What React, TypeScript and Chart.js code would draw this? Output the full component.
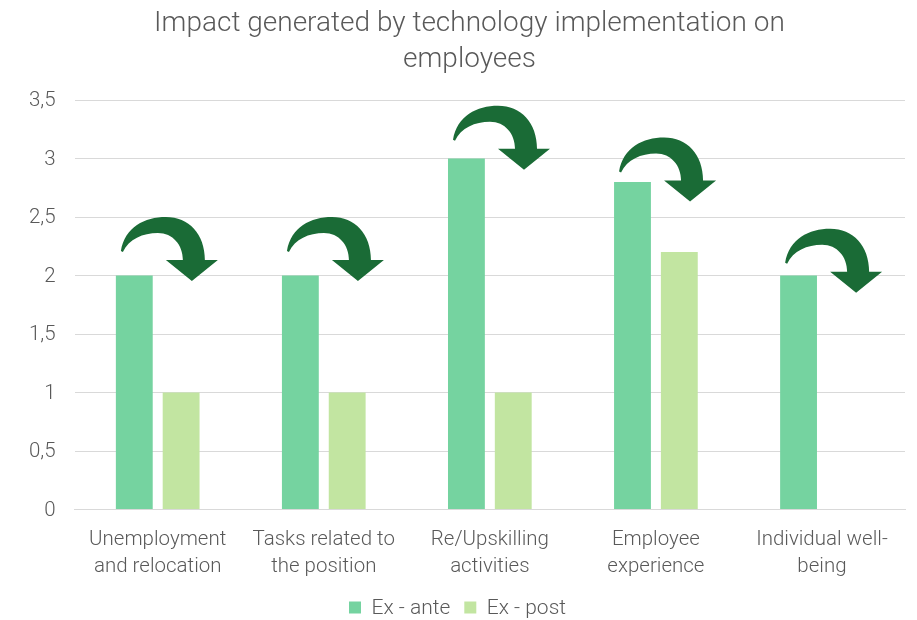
import React, { useEffect, useRef } from "react";
import { Chart, registerables } from "chart.js";

Chart.register(...registerables);

const titleLines = ["Impact generated by technology implementation on", "employees"];
const categories = [
  ["Unemployment", "and relocation"],
  ["Tasks related to", "the position"],
  ["Re/Upskilling", "activities"],
  ["Employee", "experience"],
  ["Individual well-", "being"],
];
const exAnte = [2, 2, 3, 2.8, 2];
const exPost = [1, 1, 1, 2.2, 0];
// value level (y axis units) of the top of each decorative curved arrow
const arrowTops = [2.5, 2.5, 3.45, 3.18, 2.4];

const FONT = "'Roboto Light', Roboto, 'Liberation Sans', sans-serif";
const GREY = "#595959";

const titlePlugin = {
  id: "customTitle",
  afterDraw(chart: any) {
    const ctx = chart.ctx;
    ctx.save();
    ctx.fillStyle = GREY;
    ctx.font = `300 28px ${FONT}`;
    ctx.textAlign = "center";
    ctx.textBaseline = "middle";
    const cx = chart.width / 2 + 11;
    titleLines.forEach((t, i) => ctx.fillText(t, cx, 23 + i * 36));
    ctx.restore();
  },
};

const arrowPlugin = {
  id: "curvedArrows",
  afterDatasetsDraw(chart: any) {
    const ctx = chart.ctx;
    const meta = chart.getDatasetMeta(0);
    const yScale = chart.scales.y;
    ctx.save();
    ctx.fillStyle = "#1A6B36";
    meta.data.forEach((bar: any, i: number) => {
      const left = bar.x - bar.width / 2 + 5;
      const top = yScale.getPixelForValue(arrowTops[i]);
      const P = (x: number, y: number): [number, number] => [left + x, top + y];
      ctx.beginPath();
      ctx.moveTo(...P(0, 34));
      ctx.bezierCurveTo(...P(4, 10), ...P(24, 0), ...P(45, 0));
      ctx.bezierCurveTo(...P(68, 0), ...P(84, 17), ...P(84, 43));
      ctx.lineTo(...P(97, 43));
      ctx.lineTo(...P(71, 64));
      ctx.lineTo(...P(45, 43));
      ctx.lineTo(...P(62, 43));
      ctx.bezierCurveTo(...P(62, 28), ...P(52, 16), ...P(37, 16));
      ctx.bezierCurveTo(...P(22, 16), ...P(8, 22), ...P(2, 35));
      ctx.closePath();
      ctx.fill();
    });
    ctx.restore();
  },
};

export default function App() {
  const ref = useRef<HTMLCanvasElement>(null);
  useEffect(() => {
    document.body.style.margin = "0";
    const chart = new Chart(ref.current!, {
      type: "bar",
      data: {
        labels: categories,
        datasets: [
          {
            label: "Ex - ante",
            data: exAnte,
            backgroundColor: "#75D3A0",
            categoryPercentage: 0.564,
            barPercentage: 0.787,
          },
          {
            label: "Ex - post",
            data: exPost,
            backgroundColor: "#C2E5A1",
            categoryPercentage: 0.564,
            barPercentage: 0.787,
          },
        ],
      },
      options: {
        animation: false,
        responsive: false,
        layout: { padding: { left: 10, right: 12, top: 100, bottom: -8 } },
        plugins: {
          title: { display: false },
          legend: {
            position: "bottom",
            labels: {
              color: GREY,
              font: { family: FONT, size: 21, weight: "300" },
              boxWidth: 12,
              boxHeight: 12,
              padding: 14,
            },
          },
          tooltip: { enabled: false },
        },
        scales: {
          x: {
            grid: { display: false },
            border: { display: true, color: "#D9D9D9" },
            afterFit: (scale: any) => {
              scale.height = 73.5;
            },
            ticks: {
              color: GREY,
              font: { family: FONT, size: 20.5, weight: "300", lineHeight: 1.32 },
              padding: 8,
              maxRotation: 0,
              autoSkip: false,
            },
          },
          y: {
            min: 0,
            max: 3.5,
            grid: { color: "#D9D9D9", drawTicks: false },
            border: { display: false },
            ticks: {
              stepSize: 0.5,
              color: GREY,
              padding: 19,
              font: { family: FONT, size: 20.5, weight: "300" },
              callback: (v: any) => String(v).replace(".", ","),
            },
          },
        },
      },
      plugins: [arrowPlugin, titlePlugin],
    });
    return () => chart.destroy();
  }, []);
  return (
    <div style={{ width: 917, height: 620 }}>
      <canvas ref={ref} width={917} height={620} style={{ display: "block" }} />
    </div>
  );
}
